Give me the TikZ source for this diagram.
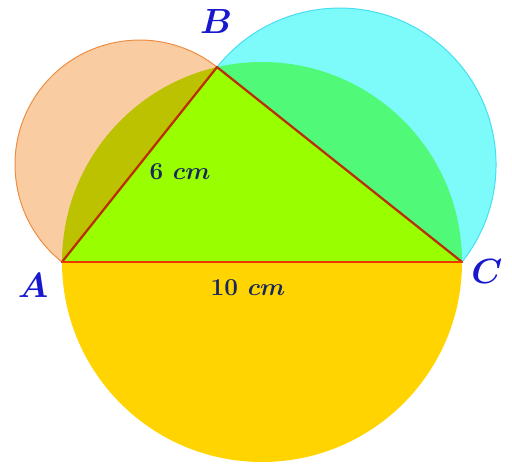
\documentclass[tikz,border=0pt]{standalone}
\usepackage{amsmath,amssymb}
\usepackage{tikz}
\usetikzlibrary{calc}
\definecolor{figgold}{RGB}{255,212,0}
\definecolor{figlime}{RGB}{153,255,0}
\definecolor{figpeach}{RGB}{250,204,162}
\definecolor{figorange}{RGB}{238,140,64}
\definecolor{figsky}{RGB}{125,250,250}
\definecolor{figcyan}{RGB}{70,222,240}
\definecolor{figolive}{RGB}{188,194,0}
\definecolor{figgreen}{RGB}{80,250,120}
\definecolor{figred}{RGB}{236,56,0}
\definecolor{figbrown}{RGB}{186,46,0}
\definecolor{figblue}{RGB}{24,24,205}
\definecolor{fignavy}{RGB}{24,40,92}
\tikzset{
  figpoint/.style={font=\fontsize{28}{30}\selectfont\bfseries\boldmath, text=figblue, inner sep=0pt},
  figlength/.style={font=\fontsize{18.5}{20}\selectfont\bfseries\boldmath, text=fignavy, inner sep=0pt},
  figside/.style={line width=1.6pt, line cap=round},
}

\begin{document}
\begin{tikzpicture}
  \useasboundingbox (-1.55,-5.15) rectangle (11.25,6.55);
  \coordinate (A) at (0,0);
  \coordinate (C) at (10,0);
  \coordinate (O) at (5,0);
  \coordinate (B) at (3.875,4.872);
  \coordinate (M1) at ($(A)!0.5!(B)$);
  \coordinate (M2) at ($(B)!0.5!(C)$);
  % half discs on the two short sides
  \draw[fill=figpeach, draw=figorange, line width=0.7pt] (B) arc[start angle=51.5, end angle=231.5, radius=3.1126] -- cycle;
  \draw[fill=figsky, draw=figcyan, line width=0.7pt] (C) arc[start angle=-38.5, end angle=141.5, radius=3.913] -- cycle;
  % upper half of the big circle, seen through them
  \begin{scope}
    \clip (B) arc[start angle=51.5, end angle=231.5, radius=3.1126] -- cycle;
    \fill[figolive] (C) arc[start angle=0, end angle=180, radius=5] -- cycle;
  \end{scope}
  \begin{scope}
    \clip (C) arc[start angle=-38.5, end angle=141.5, radius=3.913] -- cycle;
    \fill[figgreen] (C) arc[start angle=0, end angle=180, radius=5] -- cycle;
  \end{scope}
  % lower half of the big circle
  \fill[figgold] (A) arc[start angle=180, end angle=360, radius=5] -- cycle;
  \fill[figlime] (A) -- (B) -- (C) -- cycle;
  \draw[figside, figbrown] (A) -- (B) -- (C);
  \draw[figside, figred] (A) -- (C);
  \node[figpoint] (lA) at (-0.725,-0.6) {$A$};
  \node[figpoint] (lB) at (3.85,6.0) {$B$};
  \node[figpoint] (lC) at (10.62,-0.25) {$C$};
  \node[figlength] (lAB) at (2.95,2.25) {$6\ cm$};
  \node[figlength] (lAC) at (4.65,-0.65) {$10\ cm$};
\end{tikzpicture}
\end{document}
